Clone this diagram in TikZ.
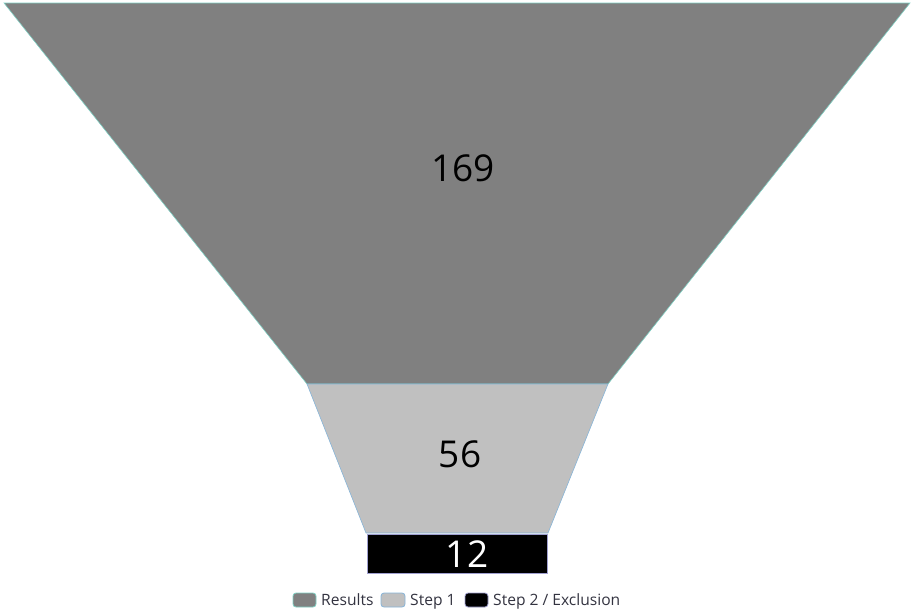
\documentclass[tikz,border=0pt]{standalone}
\usepackage{fontspec}
\setmainfont{Open Sans}
\definecolor{resfill}{HTML}{808080}
\definecolor{resline}{HTML}{7FD0C4}
\definecolor{s1fill}{HTML}{C0C0C0}
\definecolor{s1line}{HTML}{86B4D8}
\definecolor{s2fill}{HTML}{000000}
\definecolor{s2line}{HTML}{A0A0D0}
\definecolor{legtext}{HTML}{333340}
\begin{document}
\begin{tikzpicture}[x=1pt,y=-1pt,
  bignum/.style={font=\fontsize{37}{40}\selectfont, inner sep=0pt},
  legswatch/.style={rounded corners=3pt, line width=0.8pt},
  legtxt/.style={font=\fontsize{15.6}{17}\selectfont, text=legtext, anchor=base west, inner sep=0pt}]
\useasboundingbox (0,0) rectangle (916,616);
% funnel
\filldraw[fill=resfill, draw=resline, line width=0.6pt] (4,3) -- (910,3) -- (608,384) -- (307,384) -- cycle;
\filldraw[fill=s1fill, draw=s1line, line width=0.6pt] (307,384) -- (608,384) -- (548,533) -- (366,533) -- cycle;
\filldraw[fill=s2fill, draw=s2line, line width=0.6pt] (367,534) rectangle (547,573);
\node[bignum] (n169) at (463,168) {169};
\node[bignum] (n56) at (460,454) {56};
\node[bignum, text=white] (n12) at (467,554) {12};
% legend
\filldraw[legswatch, fill=resfill, draw=resline] (293,593) rectangle (316,607);
\node[legtxt] (l1) at (321,605.5) {Results};
\filldraw[legswatch, fill=s1fill, draw=s1line] (381,593) rectangle (405,607);
\node[legtxt] (l2) at (410,605.5) {Step 1};
\filldraw[legswatch, fill=s2fill, draw=s2line] (465,593) rectangle (488,607);
\node[legtxt] (l3) at (493,605.5) {Step 2 / Exclusion};
\end{tikzpicture}
\end{document}
